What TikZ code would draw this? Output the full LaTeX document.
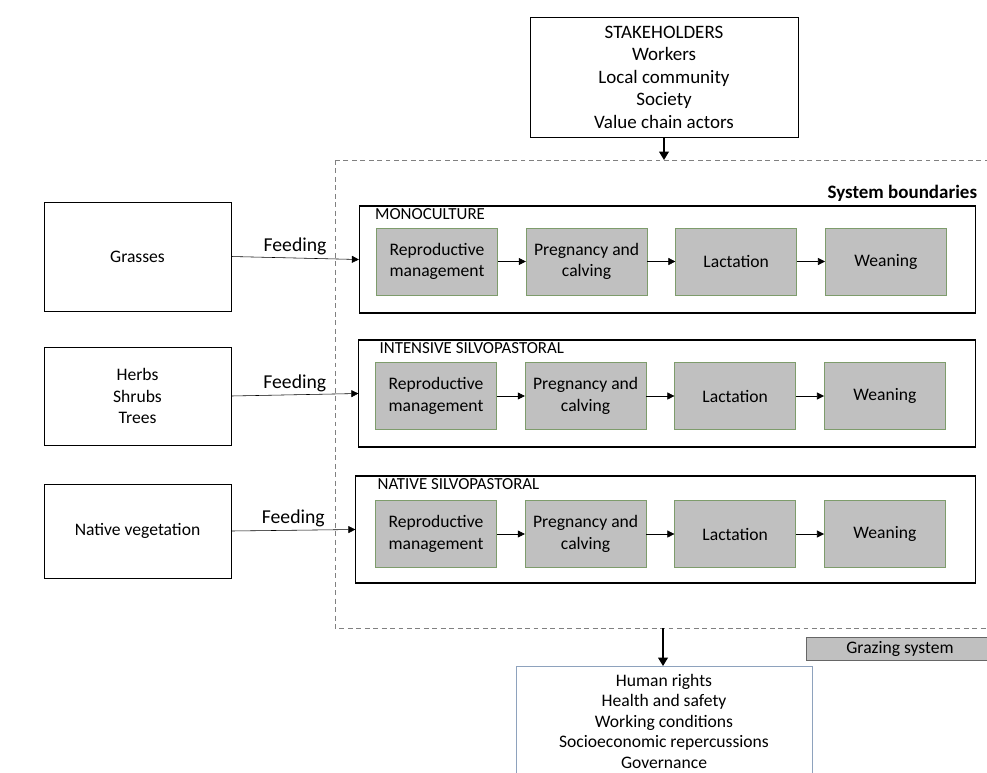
\documentclass[tikz,border=0pt]{standalone}
\usepackage{fontspec}
\setmainfont{Carlito}
\usetikzlibrary{arrows.meta,positioning}
\definecolor{stagefill}{HTML}{C0C0C0}
\definecolor{stageline}{HTML}{7E9C6C}
\definecolor{impactline}{HTML}{8EA2BD}
\definecolor{bndline}{HTML}{808080}

\begin{document}
\begin{tikzpicture}[x=0.025cm, y=-0.025cm, node distance=0.7cm,
    every node/.style={font=\fontsize{12.5}{15.5}\selectfont, align=center},
    src/.style={draw, minimum width=4.675cm, inner sep=2pt},
    stage/.style={draw=stageline, fill=stagefill, minimum width=3.025cm, minimum height=1.675cm, inner sep=1pt},
    sys/.style={draw, thick, minimum width=15.4cm, minimum height=2.675cm},
    tag/.style={anchor=north west, inner sep=0pt, font=\fontsize{12}{14}\selectfont},
    lbl/.style={font=\fontsize{14}{16}\selectfont, inner sep=2pt},
    feed/.style={-{Triangle[length=5pt,width=5pt]}},
    flow/.style={line width=1pt, -{Triangle[length=6pt,width=7pt]}}]
\clip (0,0) rectangle (987,772);

% system boundary
\draw[bndline, dash pattern=on 3.5pt off 2.5pt] (335,160) rectangle (1000,628);
\coordinate (bndtop) at (663,160);
\coordinate (bndbot) at (663,628);
\node[anchor=east, font=\bfseries\fontsize{13.5}{16}\selectfont] (bndlbl) at (982,193) {System boundaries};

% stakeholders and impacts
\node[draw, minimum width=6.7cm, minimum height=3cm, font=\fontsize{13.5}{16}\selectfont] (stake) at (664,77)
  {STAKEHOLDERS\\Workers\\Local community\\Society\\Value chain actors};
\node[draw=impactline, anchor=north, minimum width=7.4cm, minimum height=2.75cm, font=\fontsize{12.5}{14.6}\selectfont] (impact) at (664,666)
  {Human rights\\Health and safety\\Working conditions\\Socioeconomic repercussions\\Governance};
\draw[flow] (stake.south) -- (stake.south |- bndtop);
\draw[flow] (bndbot) -- (bndbot |- impact.north);

% feed sources
\node[src, minimum height=2.725cm] (grass)  at (137.5,256.5) {Grasses};
\node[src, minimum height=2.45cm]  (herbs)  at (137.5,396)   {Herbs\\Shrubs\\Trees};
\node[src, minimum height=2.35cm]  (native) at (137.5,531)   {Native vegetation};

% grazing systems
\node[sys] (mono) at (667.5,259.5) {};
\node[tag] (monolbl) at ([shift={(16,3)}]mono.north west) {MONOCULTURE};
\node[stage] (m1) at (437,261.5) {Reproductive\\management};
\node[stage, right=of m1] (m2) {Pregnancy and\\calving};
\node[stage, right=of m2] (m3) {Lactation};
\node[stage, right=of m3] (m4) {Weaning};

\node[sys] (isp) at (667,393.5) {};
\node[tag] (isplbl) at ([shift={(21,3)}]isp.north west) {INTENSIVE SILVOPASTORAL};
\node[stage] (i1) at (436,396) {Reproductive\\management};
\node[stage, right=of i1] (i2) {Pregnancy and\\calving};
\node[stage, right=of i2] (i3) {Lactation};
\node[stage, right=of i3] (i4) {Weaning};

\node[sys, minimum width=15.475cm] (nsp) at (665.5,529.5) {};
\node[tag] (nsplbl) at ([shift={(22,3)}]nsp.north west) {NATIVE SILVOPASTORAL};
\node[stage] (n1) at (436,534) {Reproductive\\management};
\node[stage, right=of n1] (n2) {Pregnancy and\\calving};
\node[stage, right=of n2] (n3) {Lactation};
\node[stage, right=of n3] (n4) {Weaning};

\foreach \r in {m,i,n} {
  \draw[feed] (\r1) -- (\r2);
  \draw[feed] (\r2) -- (\r3);
  \draw[feed] (\r3) -- (\r4);
}

\draw[feed] (grass.east)  -- node[midway, above, lbl]{Feeding} (mono.west);
\draw[feed] (herbs.east)  -- node[midway, above, lbl]{Feeding} (isp.west);
\draw[feed] (native.east) -- node[midway, above, lbl]{Feeding} (nsp.west);

% legend
\node[draw=black!60, fill=stagefill, minimum width=4.7cm, minimum height=0.575cm, inner sep=1pt] (legend) at (900,648.5) {Grazing system};
\end{tikzpicture}
\end{document}
